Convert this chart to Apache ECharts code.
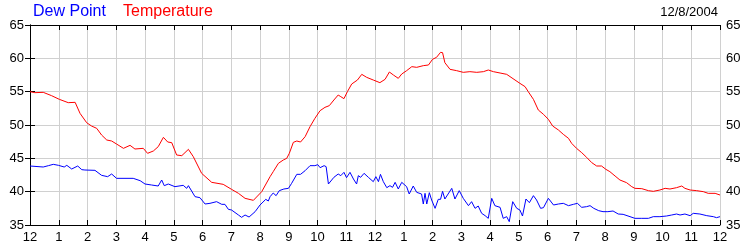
<!DOCTYPE html>
<html><head><meta charset="utf-8">
<script src="https://cdn.jsdelivr.net/npm/echarts@6/dist/echarts.min.js"></script>
<style>html,body{margin:0;padding:0;background:#fff}#c{width:750px;height:250px}</style>
</head><body><div id="c"></div>
<script>
const title = "12/8/2004";
const seriesNames = ["Dew Point", "Temperature"];
const yTicks = [35, 40, 45, 50, 55, 60, 65];
const hourLabels = ["12","1","2","3","4","5","6","7","8","9","10","11","12","1","2","3","4","5","6","7","8","9","10","11","12"];

const tempHours = [0,0.17,0.46,0.75,1.02,1.33,1.57,1.62,1.74,1.97,2.14,2.32,2.49,2.67,2.84,3.01,3.25,3.48,3.65,3.94,4.09,4.29,4.46,4.64,4.79,4.93,5.10,5.28,5.51,5.68,5.97,6.32,6.72,7.01,7.25,7.48,7.77,8.06,8.35,8.46,8.64,8.81,8.93,9.02,9.16,9.28,9.41,9.57,9.74,9.91,10.09,10.26,10.41,10.57,10.72,10.81,10.92,11.04,11.19,11.39,11.54,11.71,11.94,12.17,12.35,12.50,12.64,12.81,12.93,13.10,13.28,13.45,13.68,13.86,14.00,14.14,14.28,14.35,14.43,14.61,14.84,15.07,15.30,15.54,15.77,15.94,16.12,16.35,16.58,16.87,17.04,17.22,17.33,17.51,17.68,17.86,18.03,18.18,18.38,18.55,18.73,18.84,19.01,19.19,19.36,19.54,19.71,19.88,20.03,20.17,20.35,20.52,20.75,20.93,21.04,21.28,21.51,21.68,21.91,22.09,22.26,22.49,22.67,22.78,22.96,23.19,23.42,23.59,23.83,24.00];
const tempValues = [55.0,54.85,54.9,54.4,53.85,53.35,53.4,53.25,51.75,50.35,49.85,49.5,48.5,47.75,47.6,47.15,46.5,46.95,46.4,46.5,45.75,46.1,46.75,48.15,47.45,47.35,45.5,45.4,46.35,45.25,42.75,41.4,41.1,40.35,39.75,39.0,38.7,40.0,42.25,43.0,44.25,44.75,45.0,45.75,47.4,47.6,47.45,48.25,49.75,51.0,52.15,52.65,52.9,53.75,54.5,54.25,53.95,55.0,56.15,56.75,57.6,57.15,56.75,56.35,56.85,57.95,57.5,57.0,57.65,58.15,58.75,58.65,58.9,59.0,59.85,60.15,60.9,60.85,59.35,58.35,58.15,57.9,58.0,57.9,58.0,58.25,58.0,57.8,57.6,56.75,56.25,55.75,55.0,53.85,52.25,51.6,50.85,49.85,49.25,48.6,48.0,47.25,46.5,45.85,45.15,44.35,43.85,43.85,43.35,43.0,42.35,41.75,41.35,40.75,40.5,40.45,40.15,40.05,40.25,40.5,40.4,40.6,40.85,40.5,40.25,40.15,40.0,39.75,39.75,39.5];

const dewHours = [0,0.46,0.64,0.81,0.99,1.19,1.28,1.45,1.66,1.80,1.91,2.26,2.49,2.70,2.84,3.01,3.59,3.83,4.00,4.23,4.46,4.58,4.67,4.81,5.04,5.33,5.45,5.51,5.74,5.91,6.09,6.26,6.49,6.67,6.78,6.90,7.01,7.25,7.36,7.48,7.62,7.83,8.00,8.20,8.29,8.35,8.46,8.56,8.67,8.83,8.99,9.10,9.28,9.41,9.57,9.74,9.91,10.01,10.09,10.23,10.30,10.38,10.43,10.57,10.72,10.81,10.92,11.01,11.13,11.25,11.36,11.42,11.50,11.62,11.77,11.94,12.03,12.12,12.19,12.29,12.41,12.52,12.61,12.70,12.81,12.93,13.10,13.19,13.33,13.45,13.62,13.68,13.74,13.80,13.89,13.97,14.09,14.20,14.28,14.35,14.43,14.67,14.78,14.93,15.07,15.25,15.36,15.48,15.59,15.71,15.83,15.94,16.06,16.17,16.35,16.46,16.58,16.67,16.79,16.93,17.04,17.13,17.25,17.37,17.51,17.62,17.76,17.86,18.03,18.21,18.38,18.55,18.73,18.90,19.04,19.19,19.36,19.48,19.61,19.78,19.93,20.10,20.28,20.46,20.63,20.87,21.04,21.28,21.51,21.68,21.91,22.14,22.32,22.49,22.61,22.78,22.96,23.07,23.30,23.54,23.77,23.88,24.00];
const dewValues = [43.85,43.7,43.9,44.1,43.95,43.7,43.95,43.4,43.85,43.3,43.25,43.2,42.45,42.25,42.65,42.0,42.0,41.65,41.15,41.0,40.85,41.75,40.9,41.15,40.75,40.95,40.5,40.9,39.25,39.1,38.15,38.25,38.5,38.1,38.1,37.35,37.25,36.5,36.15,36.5,36.2,37.0,38.0,38.85,38.6,39.25,39.8,39.4,40.15,40.4,40.5,41.25,42.6,42.6,43.15,43.9,43.9,44.05,43.6,43.9,43.75,41.15,41.0,42.15,42.65,42.4,42.9,42.1,42.9,41.9,41.15,42.4,42.15,42.75,42.15,41.5,42.25,41.5,42.6,41.5,40.6,40.9,40.65,41.4,40.4,41.4,40.75,39.65,40.85,39.9,39.65,38.15,39.75,38.15,39.85,38.75,37.5,38.85,38.85,40.05,38.9,40.5,38.9,40.15,39.0,37.9,38.5,37.5,37.85,36.75,36.4,36.0,39.0,37.9,37.65,36.0,36.25,35.5,38.5,37.5,37.25,36.35,38.9,38.35,39.4,38.75,37.5,37.6,39.0,38.0,38.15,38.25,37.9,38.1,38.25,37.65,37.75,37.9,37.5,37.15,37.0,37.0,37.1,36.65,36.6,36.25,36.0,36.0,36.0,36.25,36.25,36.35,36.5,36.65,36.5,36.65,36.4,36.75,36.65,36.4,36.25,36.1,36.25];

const zip = (a, b) => a.map((v, i) => [v, b[i]]);
const FONT = 'Liberation Sans, Arial, sans-serif';
const chart = echarts.init(document.getElementById('c'), null, {renderer: 'canvas'});
const xCommon = {
  type: 'value', min: 0, max: 24, interval: 1,
  axisLine: {show: true, lineStyle: {color: '#000', width: 1}},
  axisTick: {show: true, inside: true, length: 5, lineStyle: {color: '#000'}},
  splitLine: {show: true, lineStyle: {color: '#d0d0d0', width: 1}}
};
const yCommon = {
  type: 'value', min: 35, max: 65, interval: 5,
  axisLine: {show: true, lineStyle: {color: '#000', width: 1}},
  axisTick: {show: true, inside: true, length: 5, lineStyle: {color: '#000'}},
  splitLine: {show: true, lineStyle: {color: '#d0d0d0', width: 1}},
  axisLabel: {color: '#000', fontSize: 13, fontFamily: FONT, margin: 6,
    formatter: v => yTicks.indexOf(v) >= 0 ? String(v) : ''}
};
chart.setOption({
  animation: false,
  backgroundColor: '#fff',
  grid: {left: 30, right: 30, top: 25, bottom: 25, containLabel: false},
  graphic: [
    {type: 'text', left: 33, top: 4, style: {text: seriesNames[0], fill: '#0000ff', font: '16px ' + FONT}},
    {type: 'text', left: 123, top: 4, style: {text: seriesNames[1], fill: '#ff0000', font: '16px ' + FONT}},
    {type: 'text', right: 32, top: 6, style: {text: title, fill: '#000', font: '13px ' + FONT}}
  ],
  xAxis: [
    Object.assign({}, xCommon, {position: 'bottom',
      axisLabel: {color: '#000', fontSize: 13, fontFamily: FONT, margin: 6,
        formatter: v => hourLabels[Math.round(v)] || ''}}),
    Object.assign({}, xCommon, {position: 'top', axisLabel: {show: false}})
  ],
  yAxis: [
    Object.assign({}, yCommon, {position: 'left'}),
    Object.assign({}, yCommon, {position: 'right'})
  ],
  series: [
    {name: seriesNames[1], type: 'line', data: zip(tempHours, tempValues), showSymbol: false,
     lineStyle: {color: '#ff0000', width: 1}, itemStyle: {color: '#ff0000'}, z: 3},
    {name: seriesNames[0], type: 'line', data: zip(dewHours, dewValues), showSymbol: false,
     lineStyle: {color: '#0000ff', width: 1}, itemStyle: {color: '#0000ff'}, z: 3}
  ]
});
</script>
</body></html>
